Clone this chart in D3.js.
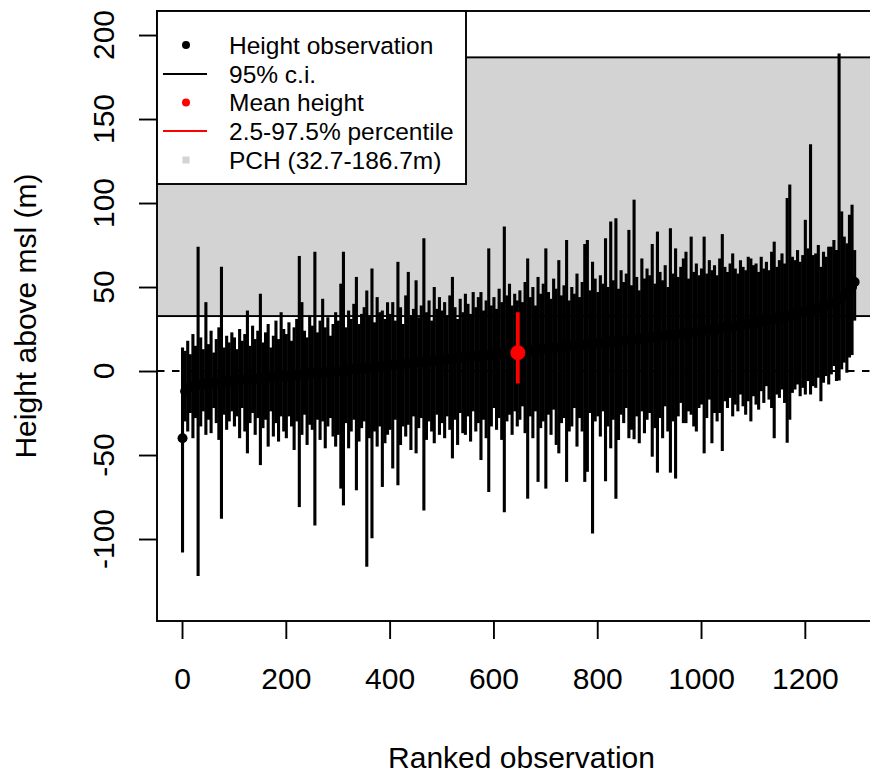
<!DOCTYPE html>
<meta charset="utf-8">
<style>
body { margin: 0; background: #fff; }
svg { display: block; font-family: "Liberation Sans", Arial, Helvetica, sans-serif; }
</style>
<body>
<script src="https://d3js.org/d3.v7.min.js"></script>
<script>
// ranked heights, one value per 5th observation (rank 1, 6, 11, ...)
var heights = [
  -40, -12, -10, -9.5, -9, -8.5, -8.5, -8, -8, -7.5,
  -7.5, -7, -7, -7, -6.5, -6.5, -6.5, -6, -6, -6,
  -5.5, -5.5, -5.5, -5, -5, -5, -5, -4.5, -4.5, -4.5,
  -4.5, -4, -4, -4, -4, -3.5, -3.5, -3.5, -3, -3,
  -3, -3, -2.5, -2.5, -2.5, -2, -2, -2, -2, -1.5,
  -1.5, -1.5, -1, -1, -1, -1, -0.5, -0.5, -0.5, 0,
  0, 0, 0.5, 0.5, 0.5, 1, 1, 1, 1.5, 1.5,
  1.5, 2, 2, 2, 2.5, 2.5, 2.5, 3, 3, 3,
  3.5, 3.5, 3.5, 4, 4, 4, 4.5, 4.5, 4.5, 5,
  5, 5, 5.5, 5.5, 5.5, 6, 6, 6, 6.5, 6.5,
  6.5, 7, 7, 7, 7.5, 7.5, 7.5, 8, 8, 8,
  8.5, 8.5, 8.5, 9, 9, 9, 9, 9.5, 9.5, 9.5,
  10, 10, 10, 10.5, 10.5, 10.5, 11, 11, 11, 11.5,
  11.5, 11.5, 12, 12, 12, 12.5, 12.5, 12.5, 13, 13,
  13, 13.5, 13.5, 13.5, 14, 14, 14, 14.5, 14.5, 14.5,
  15, 15, 15, 15.5, 15.5, 15.5, 16, 16, 16, 16.5,
  16.5, 16.5, 17, 17, 17, 17.5, 17.5, 17.5, 18, 18,
  18, 18.5, 18.5, 18.5, 19, 19, 19, 19.5, 19.5, 19.5,
  20, 20, 20, 20.5, 20.5, 21, 21, 21, 21.5, 21.5,
  21.5, 22, 22, 22.5, 22.5, 22.5, 23, 23, 23.5, 23.5,
  24, 24, 24, 24.5, 24.5, 25, 25, 25.5, 25.5, 26,
  26, 26.5, 26.5, 27, 27, 27.5, 27.5, 28, 28, 28.5,
  28.5, 29, 29, 29.5, 30, 30, 30.5, 30.5, 31, 31.5,
  31.5, 32, 32.5, 32.5, 33, 33.5, 33.5, 34, 34.5, 35,
  35.5, 36, 36, 36.5, 37, 37.5, 38, 38.5, 39, 39.5,
  40, 41, 42, 43, 44, 45, 46.5, 48, 50, 53
];

// 95% c.i. upper ends
var ciHigh = [
  14, 12, 18, 10, 22, 15, 74, 20, 13, 41,
  16, 24, 11, 19, 26, 62, 14, 21, 17, 23,
  20, 13, 25, 18, 22, 36, 15, 27, 19, 24,
  46, 17, 23, 28, 14, 21, 30, 19, 35, 25,
  22, 29, 18, 26, 31, 68.5, 41, 24, 20, 33,
  27, 71, 23, 30, 43, 26, 32, 21, 28, 35,
  30, 52, 71, 26, 36, 31, 40, 56, 28, 34,
  38, 48, 33, 61, 29, 44, 35, 36, 31, 41,
  34, 41, 30, 65, 38, 28, 45, 59, 33, 37,
  54, 32, 39, 79, 35, 42, 30, 50, 37, 44,
  36, 41, 33, 45, 56, 38, 31, 43, 35, 46,
  40, 34, 47, 38, 44, 47, 36, 42, 73, 39,
  44, 37, 49, 41, 86, 45, 52, 39, 46, 42,
  48, 41, 53, 67, 44, 50, 39, 56, 46, 52,
  73, 47, 43, 55, 49, 66, 45, 51, 78, 42,
  50, 46, 58, 44, 53, 75.6, 78, 48, 65, 55,
  47, 57, 52, 79, 50, 89, 54, 91, 49, 60,
  53, 58, 84, 51, 102, 56, 48, 67, 55, 61,
  57, 75.6, 52, 83, 59, 54, 63, 50, 85, 58,
  73, 56, 62, 67, 71, 55, 80, 59, 64, 57,
  61, 80, 58, 66, 60, 63, 57, 67, 81.5, 62,
  59, 64, 70, 61, 58, 66, 62, 60, 68, 67,
  63, 64, 59, 68, 61, 65, 60, 71, 77, 62,
  66, 70, 64, 103, 111, 68, 66, 72, 65, 69,
  90, 73, 135, 69, 70, 75, 62, 71, 68, 74,
  74, 78, 72, 189, 95, 80, 76, 93, 99, 72
];

// 95% c.i. lower ends
var ciLow = [
  -108, -30, -36, -25, -40, -28, -122, -33, -24, -38,
  -29, -37, -22, -31, -41, -88, -26, -35, -30, -24,
  -33, -27, -40, -22, -36, -49, -31, -25, -38, -28,
  -56, -34, -29, -45, -24, -39, -31, -42, -27, -36,
  -40, -27, -33, -47, -30, -81, -38, -26, -44, -32,
  -35, -92, -29, -41, -30, -46, -33, -28, -39, -45,
  -38, -70, -80, -31, -46, -36, -29, -71, -42, -34,
  -30, -116.5, -40, -99.6, -36, -45, -33, -69, -43, -38,
  -35, -58, -29, -68, -44, -33, -39, -32, -47, -27,
  -49, -34, -28, -83, -41, -30, -36, -43, -26, -38,
  -31, -40, -27, -35, -52, -29, -44, -25, -37, -38,
  -27, -42, -24, -36, -31, -53, -29, -40, -72, -33,
  -22, -35, -28, -41, -84, -30, -26, -38, -24, -33,
  -29, -21, -37, -76, -27, -40, -24, -66, -34, -30,
  -70, -26, -38, -23, -44, -49, -31, -28, -66, -36,
  -33, -22, -45, -28, -36, -66, -60, -25, -96.7, -30,
  -27, -39, -24, -65.6, -33, -46, -29, -76, -41, -26,
  -31, -22, -40, -35, -40.6, -27, -43, -24, -37, -29,
  -25, -51, -34, -60.5, -28, -40, -21, -36, -60.5, -30,
  -64, -27, -19, -31, -31, -24, -26, -33, -36, -22,
  -20, -49, -28, -17, -43, -25, -30, -25, -47.6, -18,
  -22, -16, -27, -20, -24, -14, -21, -26, -18, -30,
  -15, -20, -23, -12, -19, -9, -17, -22, -40, -14,
  -16, -11, -19, -42.7, -29, -13, -11, -8, -15, -10,
  -14, -6, -14, -9, -10, -4, -18, -7, -3, -8,
  -2, 3, -6, -5.7, 1, 5, -1, 8, 9.5, 30
];

var meanRank = 647, meanHeight = 10.9;
var pctRange = [-7.4, 35];
var pch = [32.7, 186.7];

var xTicks = [0, 200, 400, 600, 800, 1000, 1200];
var yTicks = [-100, -50, 0, 50, 100, 150, 200];

var legendLabels = ["Height observation", "95% c.i.", "Mean height",
  "2.5-97.5% percentile", "PCH (32.7-186.7m)"];

var W = 870, H = 774;
var box = {left: 157, top: 11, right: 886, bottom: 621};

var x = d3.scaleLinear().domain([-48.2, 1356.4]).range([box.left, box.right]);
var y = d3.scaleLinear().domain([-148.8, 214.3]).range([box.bottom, box.top]);

var svg = d3.select("body").append("svg")
  .attr("width", W)
  .attr("height", H);

svg.append("clipPath").attr("id", "clip")
  .append("rect")
  .attr("x", box.left).attr("y", box.top)
  .attr("width", box.right - box.left).attr("height", box.bottom - box.top);

var g = svg.append("g").attr("clip-path", "url(#clip)");

// PCH band
g.append("rect")
  .attr("x", box.left - 10)
  .attr("y", y(pch[1]))
  .attr("width", box.right - box.left + 20)
  .attr("height", y(pch[0]) - y(pch[1]))
  .attr("fill", "#d3d3d3")
  .attr("stroke", "#000")
  .attr("stroke-width", 1.9);

// zero line
g.append("line")
  .attr("x1", box.left).attr("x2", box.right)
  .attr("y1", y(0)).attr("y2", y(0))
  .attr("stroke", "#000")
  .attr("stroke-width", 1.9)
  .attr("stroke-dasharray", "7.5,7.5");

var obs = heights.map(function(h, i) {
  return {rank: 1 + 5 * i, h: h, lo: ciLow[i], hi: ciHigh[i]};
});

g.selectAll(".ci").data(obs).enter().append("line")
  .attr("class", "ci")
  .attr("x1", function(d) { return x(d.rank); })
  .attr("x2", function(d) { return x(d.rank); })
  .attr("y1", function(d) { return y(d.lo); })
  .attr("y2", function(d) { return y(d.hi); })
  .attr("stroke", "#000")
  .attr("stroke-width", 3.1);

g.selectAll(".obs").data(obs).enter().append("circle")
  .attr("class", "obs")
  .attr("cx", function(d) { return x(d.rank); })
  .attr("cy", function(d) { return y(d.h); })
  .attr("r", 5)
  .attr("fill", "#000");

// mean and percentile range
g.append("line")
  .attr("x1", x(meanRank)).attr("x2", x(meanRank))
  .attr("y1", y(pctRange[0])).attr("y2", y(pctRange[1]))
  .attr("stroke", "#ff0000")
  .attr("stroke-width", 3.8);

g.append("circle")
  .attr("cx", x(meanRank)).attr("cy", y(meanHeight))
  .attr("r", 7.5)
  .attr("fill", "#ff0000");

// frame
svg.append("rect")
  .attr("x", box.left).attr("y", box.top)
  .attr("width", box.right - box.left).attr("height", box.bottom - box.top)
  .attr("fill", "none")
  .attr("stroke", "#000")
  .attr("stroke-width", 1.9);

// axes
var xAxis = svg.append("g")
  .attr("transform", "translate(0," + box.bottom + ")")
  .call(d3.axisBottom(x).tickValues(xTicks).tickSize(18).tickPadding(29).tickFormat(d3.format("d")));
xAxis.select(".domain").remove();
xAxis.selectAll(".tick line").attr("stroke-width", 1.9);
xAxis.selectAll("text").attr("font-size", 30).attr("font-family", null).attr("fill", "#000");

var yAxis = svg.append("g")
  .attr("transform", "translate(" + box.left + ",0)")
  .call(d3.axisLeft(y).tickValues(yTicks).tickSize(18).tickFormat(""));
yAxis.select(".domain").remove();
yAxis.selectAll(".tick line").attr("stroke-width", 1.9);

svg.selectAll(".ylab").data(yTicks).enter().append("text")
  .attr("class", "ylab")
  .attr("transform", function(d) { return "translate(114," + y(d) + ") rotate(-90)"; })
  .attr("text-anchor", "middle")
  .attr("font-size", 30)
  .text(function(d) { return d; });

svg.append("text")
  .attr("x", (box.left + box.right) / 2)
  .attr("y", 768)
  .attr("text-anchor", "middle")
  .attr("font-size", 30)
  .text("Ranked observation");

svg.append("text")
  .attr("transform", "translate(36," + (box.top + box.bottom) / 2 + ") rotate(-90)")
  .attr("text-anchor", "middle")
  .attr("font-size", 30)
  .text("Height above msl (m)");

// legend
var lg = svg.append("g");
lg.append("rect")
  .attr("x", box.left).attr("y", box.top)
  .attr("width", 309).attr("height", 173)
  .attr("fill", "#fff")
  .attr("stroke", "#000")
  .attr("stroke-width", 1.9);

var rowY = [45, 74, 102.5, 131, 160];
var symX = 186;

lg.append("circle").attr("cx", symX).attr("cy", rowY[0]).attr("r", 4).attr("fill", "#000");
lg.append("line").attr("x1", 163).attr("x2", 207).attr("y1", rowY[1]).attr("y2", rowY[1])
  .attr("stroke", "#000").attr("stroke-width", 1.9);
lg.append("circle").attr("cx", symX).attr("cy", rowY[2]).attr("r", 4).attr("fill", "#ff0000");
lg.append("line").attr("x1", 163).attr("x2", 207).attr("y1", rowY[3]).attr("y2", rowY[3])
  .attr("stroke", "#ff0000").attr("stroke-width", 1.9);
lg.append("rect").attr("x", symX - 3.5).attr("y", rowY[4] - 3.5).attr("width", 7).attr("height", 7)
  .attr("fill", "#d3d3d3");

lg.selectAll(".ltext").data(legendLabels).enter().append("text")
  .attr("class", "ltext")
  .attr("x", 229)
  .attr("y", function(d, i) { return rowY[i]; })
  .attr("dy", "0.36em")
  .attr("font-size", 24.5)
  .text(function(d) { return d; });
</script>
